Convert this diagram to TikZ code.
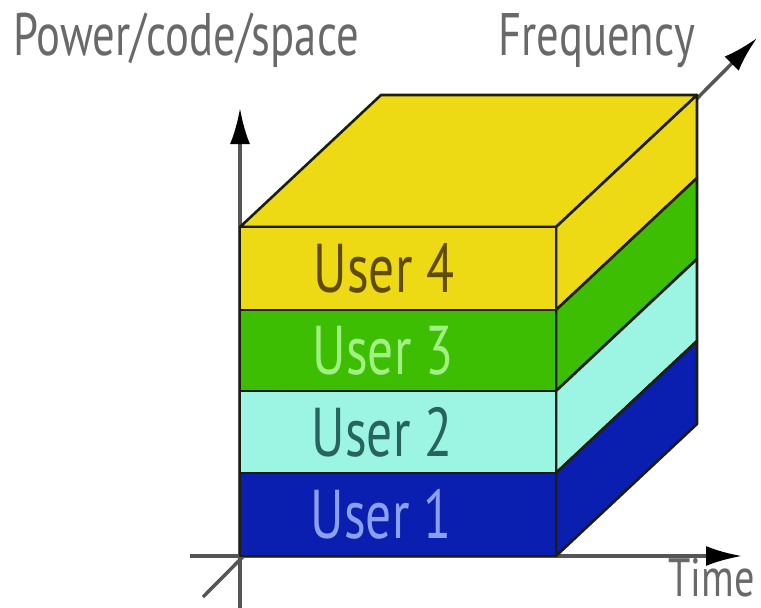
\documentclass[tikz,border=0pt]{standalone}
\usepackage{fontspec}
\setmainfont{PT Sans}[FakeStretch=0.745]
\usetikzlibrary{arrows.meta}
\definecolor{ylw}{RGB}{238,218,20}
\definecolor{grn}{RGB}{61,190,2}
\definecolor{cyn}{RGB}{156,245,227}
\definecolor{blu}{RGB}{10,30,176}
\definecolor{edge}{RGB}{30,30,15}
\definecolor{axisgray}{RGB}{85,85,85}
\definecolor{lblgray}{RGB}{105,105,105}
\definecolor{t4}{RGB}{95,75,5}
\definecolor{t3}{RGB}{160,240,130}
\definecolor{t2}{RGB}{40,100,95}
\definecolor{t1}{RGB}{140,160,240}
\tikzset{
  axisline/.style={draw=axisgray, line width=3.5pt, -{Latex[length=36pt,width=20pt,color=black]}},
  facepart/.style={draw=edge, line width=2.6pt, line join=round},
  lbl/.style={text=lblgray, font=\fontsize{60}{62}\selectfont, inner sep=0pt},
  usr/.style={font=\fontsize{69}{71}\selectfont, inner sep=0pt, anchor=base}
}
\begin{document}
\begin{tikzpicture}[x=1pt, y=-1pt]
\useasboundingbox (0,0) rectangle (761,608);
% coordinates
\coordinate (O) at (240,556);
\coordinate (dstart) at (203,597);
\coordinate (dend) at (757,38);
\coordinate (vstart) at (240,620);
\coordinate (vend) at (240,108);
\coordinate (hstart) at (190,556);
\coordinate (hend) at (742,556);
% axes
\draw[axisline] (dstart) -- (dend);
\draw[axisline] (vstart) -- (vend);
\draw[axisline] (hstart) -- (hend);
% top face
\filldraw[facepart, fill=ylw] (240,227) -- (556,227) -- (697,95) -- (381,95) -- cycle;
% side faces
\filldraw[facepart, fill=ylw] (556,227) -- (697,95) -- (697,178) -- (556,310) -- cycle;
\filldraw[facepart, fill=grn] (556,310) -- (697,178) -- (697,259) -- (556,391) -- cycle;
\filldraw[facepart, fill=cyn] (556,391) -- (697,259) -- (697,341) -- (556,473) -- cycle;
\filldraw[facepart, fill=blu] (556,473) -- (697,341) -- (697,424) -- (556,556) -- cycle;
% front faces
\filldraw[facepart, fill=ylw] (240,227) rectangle (556,310);
\filldraw[facepart, fill=grn] (240,310) rectangle (556,391);
\filldraw[facepart, fill=cyn] (240,391) rectangle (556,473);
\filldraw[facepart, fill=blu] (240,473) rectangle (556,556);
% user labels
\node[usr, text=t4] (u4) at (384,292) {User 4};
\node[usr, text=t3] (u3) at (383,374) {User 3};
\node[usr, text=t2] (u2) at (382,456) {User 2};
\node[usr, text=t1] (u1) at (381,538) {User 1};
% axis labels
\node[lbl, anchor=base west] (pcs) at (13,55) {Power/code/space};
\node[lbl, anchor=base east] (freq) at (695,55) {Frequency};
\node[lbl, font=\fontsize{54}{56}\selectfont, anchor=base east] (time) at (755,596) {Time};
\end{tikzpicture}
\end{document}
